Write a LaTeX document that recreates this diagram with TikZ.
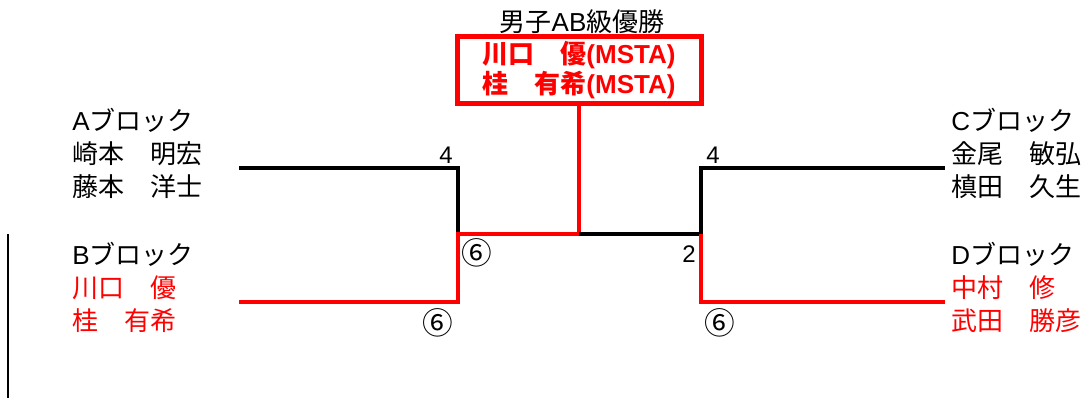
\documentclass[tikz,border=0pt]{standalone}
\usepackage{fontspec}
\setmainfont{Noto Sans CJK JP}
\newfontfamily\latinfont{Liberation Sans}
\newcommand\lat[1]{{\latinfont #1}}
\definecolor{winred}{RGB}{255,0,0}
\begin{document}
\begin{tikzpicture}[x=0.75pt,y=-0.75pt,
  block/.style={anchor=base west,align=left,inner sep=0pt,
    font=\fontsize{19.5}{24.5}\selectfont},
  score/.style={inner sep=0pt,font=\latinfont\fontsize{18}{20}\selectfont},
  circled/.style={inner sep=0pt,font=\fontsize{23}{24}\selectfont},
  lose/.style={line width=3pt},
  win/.style={line width=3pt,winred}]
\useasboundingbox (0,0) rectangle (1083,401);
% title and winner box
\node[anchor=base,inner sep=0pt,font=\fontsize{19.5}{24}\selectfont] (title) at (582,31) {男子\lat{AB}級優勝};
\node[draw=winred,line width=3.75pt,minimum width=183pt,minimum height=49.5pt,
  align=center,text=winred,font=\bfseries\fontsize{19.5}{23}\selectfont] (champ) at (579,70)
  {川口　優\lat{(MSTA)}\\桂　有希\lat{(MSTA)}};
% blocks (base = last line)
\node[block] (blockA) at (72,196) {\lat{A}ブロック\\崎本　明宏\\藤本　洋士};
\node[block] (blockB) at (72,330) {\lat{B}ブロック\\\textcolor{winred}{川口　優}\\\textcolor{winred}{桂　有希}};
\node[block] (blockC) at (951,196) {\lat{C}ブロック\\金尾　敏弘\\槙田　久生};
\node[block] (blockD) at (951,330) {\lat{D}ブロック\\\textcolor{winred}{中村　修}\\\textcolor{winred}{武田　勝彦}};
% bracket
\coordinate (aEnd) at (239,168);
\coordinate (aTurn) at (458,168);
\coordinate (abMeet) at (458,234);
\coordinate (bEnd) at (239,302);
\coordinate (bTurn) at (458,302);
\coordinate (final) at (579,234);
\coordinate (cdMeet) at (701,234);
\coordinate (cTurn) at (701,168);
\coordinate (cEnd) at (945,168);
\coordinate (dTurn) at (701,302);
\coordinate (dEnd) at (945,302);
\draw[lose] (aEnd) -- (aTurn) -- (abMeet);
\draw[win] (bEnd) -- (bTurn) -- (abMeet) -- (final) -- (champ.south);
\draw[lose] (final) -- (cdMeet) -- (cTurn) -- (cEnd);
\draw[win] (dEnd) -- (dTurn) -- (cdMeet);
\draw[line width=1.5pt] (8,234) -- (8,398);
% scores
\node[score] (sA) at (446,155) {4};
\node[score] (sC) at (713,155) {4};
\node[circled] (sAB) at (477,253) {⑥};
\node[score] (sCD) at (689,254) {2};
\node[circled] (sB) at (438,323) {⑥};
\node[circled] (sD) at (720,323) {⑥};
\end{tikzpicture}
\end{document}
